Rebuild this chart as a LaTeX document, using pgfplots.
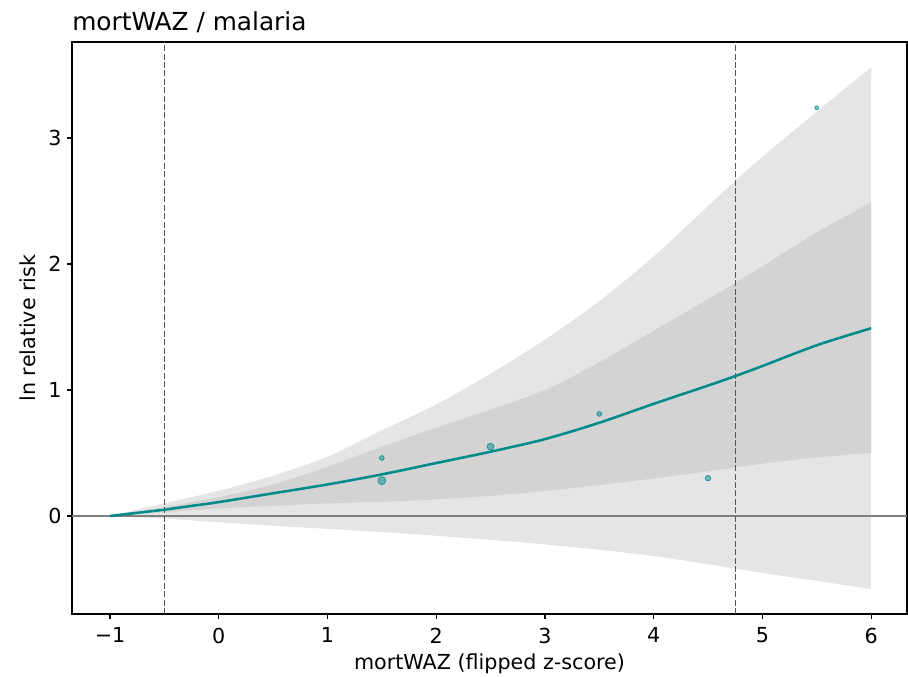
\documentclass[border=0pt]{standalone}
\usepackage{pgfplots}
\pgfplotsset{compat=1.18}
\usepackage{pgfplotstable}
\usepgfplotslibrary{fillbetween}
\usepackage{fontspec}
\setmainfont{DejaVu Sans}

\definecolor{curveteal}{HTML}{008B8B}
\definecolor{bandouter}{HTML}{E5E5E5}
\definecolor{bandinner}{HTML}{D3D3D3}
\definecolor{refgrey}{HTML}{7F7F7F}
\definecolor{vgrey}{HTML}{555555}

% fitted curve (m) with inner (il/iu) and outer (ol/ou) uncertainty bands
\pgfplotstableread{
x      m      ol      il     iu     ou
-1.00  0.000  0.000   0.000  0.000  0.000
-0.75  0.025 -0.010   0.015  0.035  0.050
-0.50  0.050 -0.020   0.030  0.070  0.100
-0.25  0.080 -0.035   0.045  0.110  0.150
0.00   0.110 -0.050   0.060  0.150  0.200
0.50   0.180 -0.078   0.080  0.250  0.320
1.00   0.250 -0.102   0.100  0.390  0.470
1.50   0.330 -0.128   0.112  0.550  0.680
2.00   0.420 -0.157   0.132  0.700  0.885
2.50   0.510 -0.190   0.160  0.845  1.130
3.00   0.610 -0.226   0.198  1.000  1.400
3.50   0.740 -0.268   0.245  1.220  1.705
4.00   0.890 -0.318   0.298  1.470  2.060
4.50   1.035 -0.383   0.355  1.720  2.460
4.75   1.110 -0.418   0.385  1.850  2.660
5.00   1.190 -0.452   0.415  1.980  2.850
5.50   1.355 -0.515   0.465  2.250  3.210
6.00   1.490 -0.580   0.500  2.490  3.560
}\curvedata

\begin{document}
\begin{tikzpicture}
\begin{axis}[
  name=main,
  scale only axis,
  width=626.25pt, height=429pt,
  xmin=-1.35, xmax=6.33,
  ymin=-0.778, ymax=3.762,
  xtick={-1,0,1,2,3,4,5,6},
  xticklabels={−1,0,1,2,3,4,5,6},
  ytick={0,1,2,3},
  tick align=outside,
  tick pos=left,
  major tick length=3.75pt,
  every tick/.style={black, line width=0.9pt},
  axis line style={black, line width=1pt},
  /pgf/number format/assume math mode=true,
  ticklabel style={font=\fontsize{15.5}{18}\selectfont},
  xticklabel style={yshift=-3pt},
  yticklabel style={xshift=-0.5pt},
  title={mortWAZ / malaria},
  title style={font=\fontsize{18.6}{22}\selectfont, at={(axis description cs:0,1)}, anchor=base west, inner sep=0pt, yshift=2.25pt},
  xlabel={mortWAZ (flipped z-score)},
  xlabel style={font=\fontsize{15.5}{18}\selectfont, at={(axis description cs:0.5,0)}, anchor=base, inner sep=0pt, yshift=-42pt},
  ylabel={ln relative risk},
  ylabel style={font=\fontsize{15.5}{18}\selectfont, at={(axis description cs:-0.0533,0.5)}, anchor=center, inner sep=0pt},
  clip=true,
]
% bands
\addplot[name path=ou, draw=none, smooth] table[x=x, y=ou]{\curvedata};
\addplot[name path=ol, draw=none, smooth] table[x=x, y=ol]{\curvedata};
\addplot[name path=iu, draw=none, smooth] table[x=x, y=iu]{\curvedata};
\addplot[name path=il, draw=none, smooth] table[x=x, y=il]{\curvedata};
\addplot[fill=bandouter, draw=none] fill between[of=ou and ol];
\addplot[fill=bandinner, draw=none] fill between[of=iu and il];

% reference line at zero
\addplot[refgrey, line width=1.5pt] coordinates {(-1.35,0) (6.33,0)};

% thresholds
\addplot[vgrey, line width=0.85pt, dash pattern=on 4.5pt off 1.8pt] coordinates {(-0.5,-0.778) (-0.5,3.762)};
\addplot[vgrey, line width=0.85pt, dash pattern=on 4.5pt off 1.8pt] coordinates {(4.75,-0.778) (4.75,3.762)};

% study points, sized by weight
\pgfplotsset{studypt/.style={only marks, mark=*, color=curveteal, mark options={draw=none, fill=curveteal, fill opacity=0.5}}}
\addplot[studypt, mark size=3pt] coordinates {(1.5,0.28)};
\addplot[studypt, mark size=2.6pt] coordinates {(2.5,0.55)};
\addplot[studypt, mark size=2.1pt] coordinates {(4.5,0.30)};
\addplot[studypt, mark size=1.8pt] coordinates {(1.5,0.46) (3.5,0.81)};
\addplot[studypt, mark size=1.5pt] coordinates {(5.5,3.24)};

% fitted curve
\addplot[curveteal, line width=1.9pt, smooth] table[x=x, y=m]{\curvedata};
\end{axis}
\pgfresetboundingbox
\path[use as bounding box] ([shift={(-54pt,-47.25pt)}]main.south west) rectangle ([shift={(0.75pt,31.5pt)}]main.north east);
\end{tikzpicture}
\end{document}
